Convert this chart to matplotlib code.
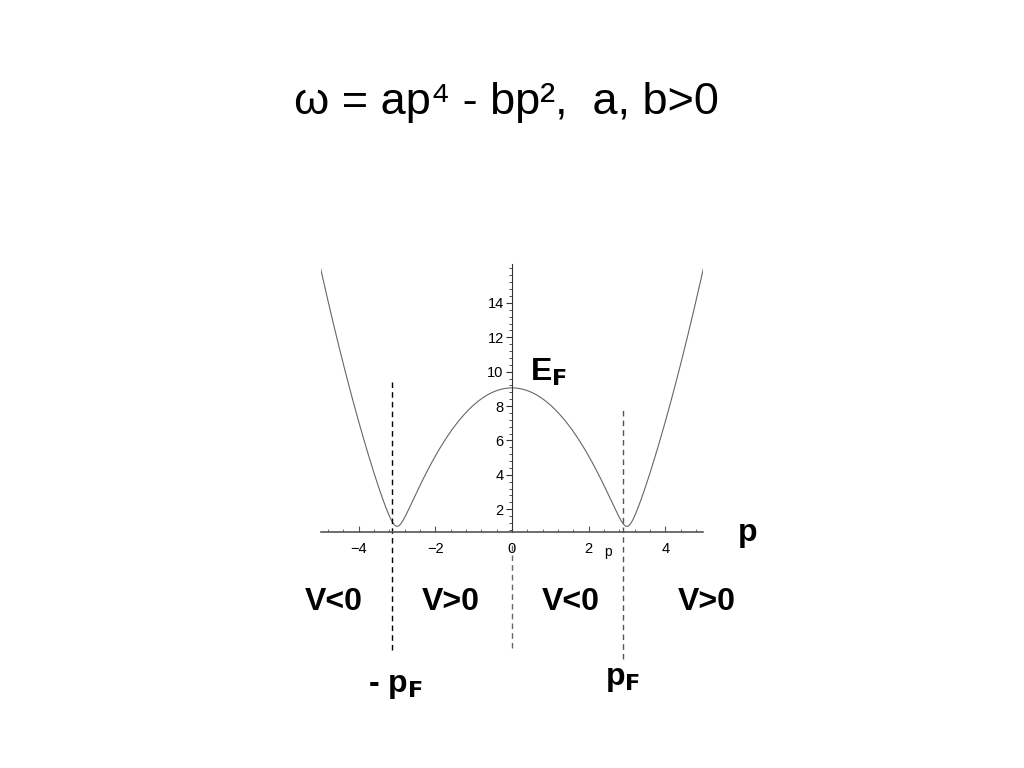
import numpy as np
import matplotlib
matplotlib.use("Agg")
import matplotlib.pyplot as plt
from matplotlib.ticker import MultipleLocator

plt.rcParams['font.family'] = ['Liberation Sans', 'DejaVu Sans']

# curve: omega(p) (max 9 at p=0, min ~1 at p=+-3)
p = np.linspace(-5, 5, 801)
omega = np.sqrt((p**2 - 9)**2 + 1)

x_ticks = [-4, -2, 0, 2, 4]
y_ticks = [2, 4, 6, 8, 10, 12, 14]

# dashed markers: p position, top and bottom (data units)
mark_p = [-3.13, 0.0, 2.90]
mark_top = [9.4, 0.0, 7.9]
mark_bottom = [-6.2, -6.1, -6.7]
mark_color = ["black", "#666666", "#555555"]

region_labels = ["V<0", "V>0", "V<0", "V>0"]
region_p = [-4.66, -1.60, 1.53, 5.08]


def main() -> None:
    fig = plt.figure(figsize=(10.24, 7.68), dpi=100)
    ax = fig.add_axes([0.313, 0.307, 0.374, 0.349])
    ax.plot(p, omega, color="#666666", lw=0.8)
    ax.set_xlim(-5, 5)
    ax.set_ylim(0.66, 16.25)

    ax.spines['top'].set_visible(False)
    ax.spines['right'].set_visible(False)
    ax.spines['left'].set_position(('data', 0))
    ax.spines['left'].set_color("#333333")
    ax.spines['bottom'].set_color("#555555")
    ax.spines['bottom'].set_linewidth(1.2)

    ax.set_xticks(x_ticks)
    ax.set_xticklabels([str(v).replace("-", "\u2212") for v in x_ticks])
    ax.set_yticks(y_ticks)
    ax.xaxis.set_minor_locator(MultipleLocator(0.4))
    ax.yaxis.set_minor_locator(MultipleLocator(0.4))
    ax.tick_params(axis='x', which='major', direction='in', length=4,
                   labelsize=10.5, pad=7, color="#555555")
    ax.tick_params(axis='x', which='minor', direction='in', length=2.5,
                   color="#555555")
    ax.tick_params(axis='y', which='major', direction='out', length=4,
                   labelsize=10.5, pad=2, color="#333333")
    ax.tick_params(axis='y', which='minor', direction='out', length=2,
                   color="#333333")
    ax.text(2.5, -0.5, "p", fontsize=10, ha="center", va="center")

    for xp, top, bot, c in zip(mark_p, mark_top, mark_bottom, mark_color):
        ax.plot([xp, xp], [bot, top], ls=(0, (4, 3)), color=c, lw=1.0,
                clip_on=False)

    for lab, xp in zip(region_labels, region_p):
        ax.text(xp, -3.4, lab, fontsize=23, fontweight="bold",
                ha="center", va="center")

    ax.text(-3.05, -8.3, r"- p$_\mathbf{F}$", fontsize=23, fontweight="bold",
            ha="center", va="center")
    ax.text(2.88, -7.9, r"p$_\mathbf{F}$", fontsize=23, fontweight="bold",
            ha="center", va="center")
    ax.text(0.95, 9.95, r"E$_\mathbf{F}$", fontsize=23, fontweight="bold",
            ha="center", va="center")
    ax.text(6.15, 0.6, "p", fontsize=23, fontweight="bold",
            ha="center", va="center")

    fig.text(0.495, 0.866, "\u03c9 = ap\u2074 - bp\u00b2,  a, b>0",
             fontsize=32.5, ha="center", va="center")

    fig.savefig("out.png", dpi=100)


if __name__ == "__main__":
    main()
